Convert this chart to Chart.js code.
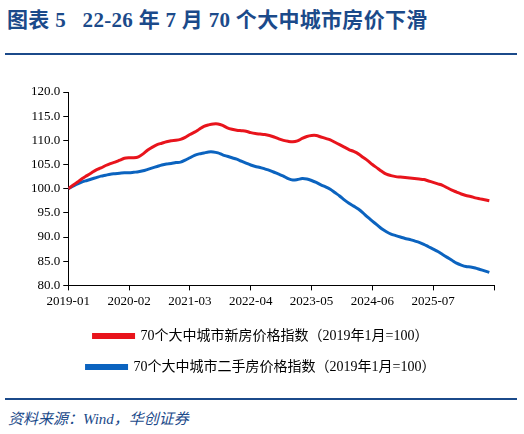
<!DOCTYPE html>
<html lang="zh">
<head>
<meta charset="UTF-8">
<script src="https://cdn.jsdelivr.net/npm/chart.js"></script>
<style>
  body { margin: 0; width: 524px; height: 434px; background: #fff; position: relative; overflow: hidden; }
  .title { position: absolute; left: 7px; top: 3px; font: bold 21px "Liberation Serif", "Noto Sans CJK SC", serif; color: #1b4a8a; letter-spacing: 0.3px; }
  .rule { position: absolute; left: 5px; width: 512px; height: 2px; background: #1b4a8a; }
  .source { position: absolute; left: 8px; top: 407px; font: italic 15px "Liberation Serif", "Noto Sans CJK SC", serif; color: #1b4a8a; }
  #wrap { position: absolute; left: 0; top: 62px; width: 524px; height: 330px; }
</style>
</head>
<body>
<div class="title">图表 5&nbsp;&nbsp; 22-26 年 7 月 70 个大中城市房价下滑</div>
<div class="rule" style="top:53px"></div>
<div id="wrap"><canvas id="c"></canvas></div>
<div class="rule" style="top:398px"></div>
<div class="source">资料来源：Wind，华创证券</div>
<script>
// monthly, starting 2019-01
const startYear = 2019;
const newHome = [
  100, 100.7, 101.4, 102.1, 102.7, 103.3, 103.9,
  104.3, 104.8, 105.2, 105.5, 105.9, 106.3,
  106.4, 106.4, 106.6, 107.2,
  108.0, 108.6, 109.1, 109.4,
  109.7, 109.9, 110.0, 110.2,
  110.6, 111.2, 111.7, 112.3, 112.9,
  113.2, 113.4, 113.4, 113.1, 112.6,
  112.3, 112.1, 112.0, 111.9, 111.6, 111.4,
  111.3, 111.2, 111.0, 110.7, 110.3, 110.0, 109.8,
  109.7, 109.9, 110.4, 110.8, 111.0, 111.0,
  110.7, 110.4, 110.1, 109.6, 109.1, 108.6, 108.1, 107.7, 107.2,
  106.5, 105.8, 105.0, 104.3, 103.6, 103.0, 102.7,
  102.5, 102.4, 102.3, 102.2, 102.1, 102.0, 101.9,
  101.6, 101.3, 101.0, 100.7,
  100.2, 99.7, 99.3, 98.9, 98.6,
  98.4, 98.1, 97.9, 97.7, 97.5
];
const secondHand = [
  100, 100.5, 101.0, 101.4, 101.7, 102.0,
  102.3, 102.6, 102.8, 103.0,
  103.1, 103.2, 103.3, 103.3, 103.4,
  103.5, 103.7, 104.0,
  104.3, 104.6, 104.9, 105.1,
  105.2, 105.4, 105.5,
  105.9, 106.4, 106.9, 107.2,
  107.4, 107.6, 107.6, 107.4,
  107.0, 106.7, 106.4, 106.1,
  105.7, 105.3, 104.9, 104.6,
  104.4, 104.1, 103.8, 103.4, 103.0, 102.6, 102.1,
  101.8, 101.9, 102.1, 102.0, 101.7, 101.3,
  100.8, 100.4, 99.9, 99.2, 98.5, 97.7, 97.0, 96.4, 95.8,
  95.0, 94.1, 93.3, 92.5, 91.7, 91.1, 90.6,
  90.3, 90.0, 89.7, 89.5, 89.2, 88.9,
  88.5, 88.0, 87.5, 87.0, 86.4,
  85.8, 85.2, 84.6, 84.2, 83.9,
  83.8, 83.6, 83.3, 83.0, 82.7
];
const seriesNames = ['70个大中城市新房价格指数（2019年1月=100）', '70个大中城市二手房价格指数（2019年1月=100）'];
const tickStep = 13;

function monthLabel(i) {
  const y = startYear + Math.floor(i / 12);
  const m = (i % 12) + 1;
  return y + '-' + String(m).padStart(2, '0');
}
const toPts = arr => arr.map((v, i) => ({ x: i, y: v }));
const serif = '"Liberation Serif", "Noto Sans CJK SC", serif';

new Chart(document.getElementById('c'), {
  type: 'line',
  data: {
    datasets: [
      { label: seriesNames[0], data: toPts(newHome), borderColor: '#e8141c', backgroundColor: '#e8141c', borderWidth: 3, pointRadius: 0, tension: 0.3 },
      { label: seriesNames[1], data: toPts(secondHand), borderColor: '#0b63bf', backgroundColor: '#0b63bf', borderWidth: 3, pointRadius: 0, tension: 0.3 }
    ]
  },
  options: {
    responsive: true,
    maintainAspectRatio: false,
    animation: false,
    layout: { padding: { left: 28, right: 30, top: 30, bottom: 8 } },
    plugins: {
      legend: {
        position: 'bottom',
        labels: { boxWidth: 40, boxHeight: 3, padding: 17, color: '#000', font: { family: serif, size: 14 } }
      },
      tooltip: { enabled: false }
    },
    scales: {
      x: {
        type: 'linear', min: 0, max: 91,
        ticks: {
          stepSize: tickStep, color: '#000', maxRotation: 0,
          font: { family: serif, size: 13 },
          callback: v => v < 91 ? monthLabel(v) : ''
        },
        grid: { display: true, drawOnChartArea: false, drawTicks: true, tickLength: 5, color: '#000' },
        border: { color: '#000', width: 1 }
      },
      y: {
        min: 80, max: 120,
        ticks: { stepSize: 5, color: '#000', font: { family: serif, size: 13 }, callback: v => v.toFixed(1) },
        grid: { display: true, drawOnChartArea: false, drawTicks: true, tickLength: 5, color: '#000' },
        border: { color: '#000', width: 1 }
      }
    }
  }
});
</script>
</body>
</html>
